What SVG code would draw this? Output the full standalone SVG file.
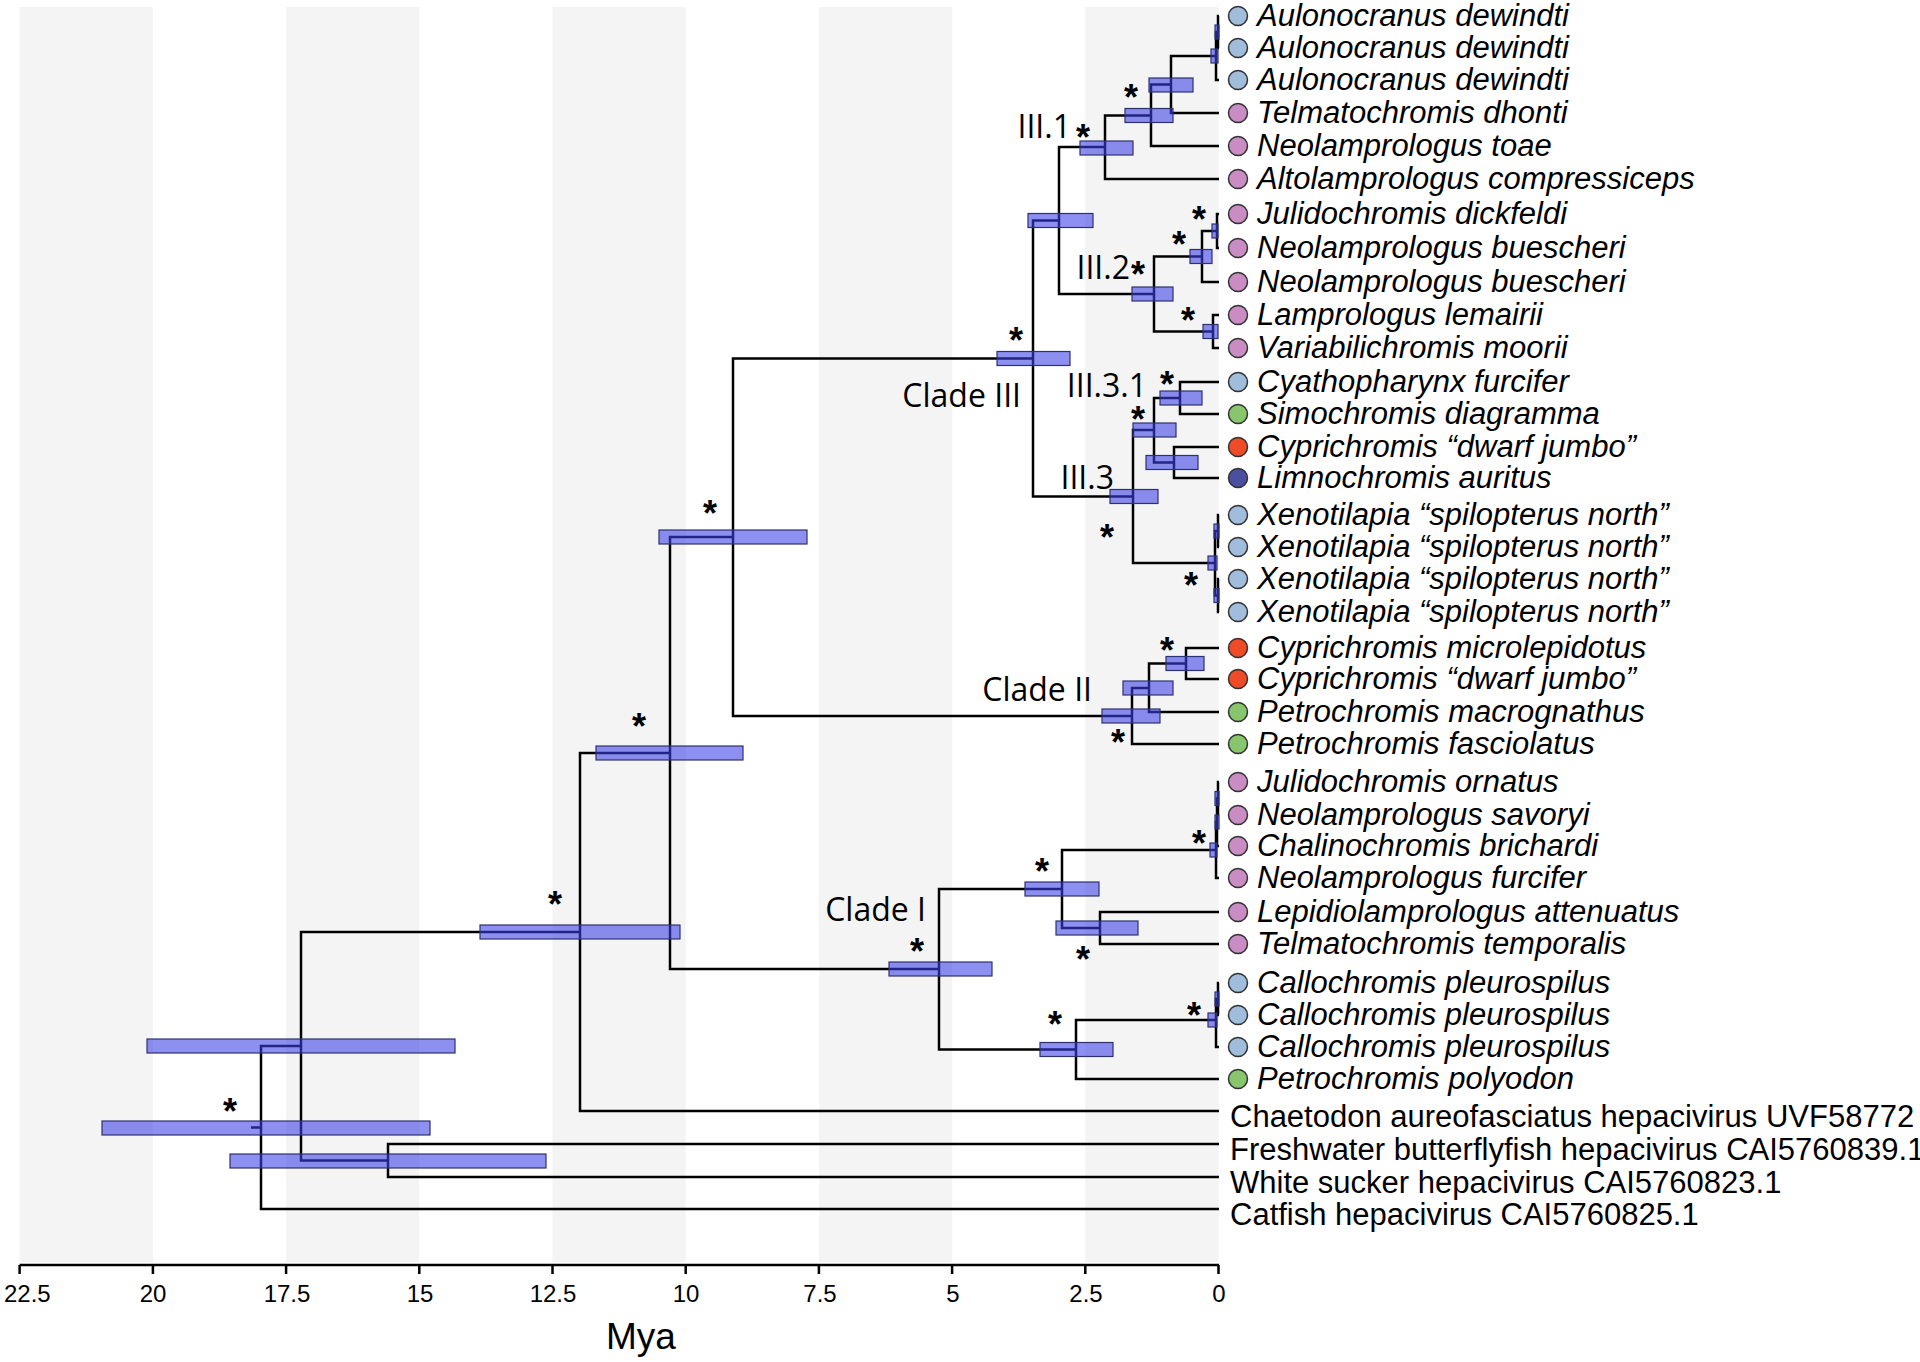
<svg xmlns="http://www.w3.org/2000/svg" width="1920" height="1362" viewBox="0 0 1920 1362">
<style>
.band{fill:#f4f4f4}
.br{fill:none;stroke:#000;stroke-width:2.5;stroke-linejoin:miter}
.bar{fill:#3a3fe6;fill-opacity:0.58;stroke:#2e3170;stroke-width:1.2}
.sp{font-family:"Liberation Sans",Arial,sans-serif;font-style:italic;font-size:31px;fill:#000}
.og{font-family:"Liberation Sans",Arial,sans-serif;font-size:31px;fill:#000}
.cl{font-family:"Open Sans","Liberation Sans",sans-serif;font-size:32px;fill:#000;text-anchor:end}
.st{font-family:"Liberation Sans",Arial,sans-serif;font-weight:bold;font-size:36px;fill:#000;text-anchor:middle}
.tk{font-family:"Liberation Sans",Arial,sans-serif;font-size:24px;fill:#000;text-anchor:middle}
.dot{stroke:#333;stroke-width:1.5}
.lb{fill:#a0bedc}.pk{fill:#c98dc4}.gr{fill:#88c66e}.rd{fill:#ee4b26}.db{fill:#4a4f9f}
</style>
<rect width="1920" height="1362" fill="#fff"/>
<g id="background">
<rect class="band" x="19.6" y="7" width="133.3" height="1255"/>
<rect class="band" x="286" y="7" width="133.3" height="1255"/>
<rect class="band" x="552.5" y="7" width="133.3" height="1255"/>
<rect class="band" x="819" y="7" width="133.3" height="1255"/>
<rect class="band" x="1085.3" y="7" width="133.3" height="1255"/>
</g>
<g id="connectors">
<path class="br" d="M1219 16 H1218 V48 H1219"/>
<path class="br" d="M1218 32 H1216 V80 H1219"/>
<path class="br" d="M1216 56 H1171 V113 H1219"/>
<path class="br" d="M1171 84.5 H1151 V146 H1219"/>
<path class="br" d="M1151 115.5 H1105 V179 H1219"/>
<path class="br" d="M1219 214 H1217 V248 H1219"/>
<path class="br" d="M1217 231 H1202 V282 H1219"/>
<path class="br" d="M1219 315 H1213 V348 H1219"/>
<path class="br" d="M1202 256.5 H1154 V331.5 H1213"/>
<path class="br" d="M1105 147 H1059 V294 H1154"/>
<path class="br" d="M1219 382 H1180 V414 H1219"/>
<path class="br" d="M1219 447 H1174 V478 H1219"/>
<path class="br" d="M1180 398 H1154 V462.5 H1174"/>
<path class="br" d="M1219 515 H1218 V547 H1219"/>
<path class="br" d="M1219 579 H1218 V612 H1219"/>
<path class="br" d="M1218 531 H1215 V595.5 H1218"/>
<path class="br" d="M1154 430 H1133 V563 H1215"/>
<path class="br" d="M1059 220.5 H1033 V496.5 H1133"/>
<path class="br" d="M1219 648 H1186 V679 H1219"/>
<path class="br" d="M1186 663.5 H1149 V712 H1219"/>
<path class="br" d="M1149 688 H1132 V744 H1219"/>
<path class="br" d="M1033 358.5 H733 V716 H1132"/>
<path class="br" d="M1219 782 H1218 V815 H1219"/>
<path class="br" d="M1218 798.5 H1217 V846 H1219"/>
<path class="br" d="M1217 822 H1216 V878 H1219"/>
<path class="br" d="M1219 912 H1100 V944 H1219"/>
<path class="br" d="M1216 850 H1062 V928 H1100"/>
<path class="br" d="M1219 983 H1218 V1015 H1219"/>
<path class="br" d="M1218 999 H1216 V1047 H1219"/>
<path class="br" d="M1216 1020 H1076 V1079 H1219"/>
<path class="br" d="M1062 889 H939 V1049.5 H1076"/>
<path class="br" d="M733 537 H670 V969 H939"/>
<path class="br" d="M670 753 H580 V1111 H1219"/>
<path class="br" d="M1219 1144 H388 V1177 H1219"/>
<path class="br" d="M580 932 H301 V1160.5 H388"/>
<path class="br" d="M301 1046 H261 V1209 H1219"/>
<path class="br" d="M251 1127.5 H261"/>
</g>
<g id="node-aulonocranus"><rect class="bar" x="1215" y="25" width="4" height="14"/><rect class="bar" x="1211" y="49" width="7" height="14"/></g>
<g id="node-iii1-a"><rect class="bar" x="1149" y="78" width="44" height="14"/><text class="st" x="1131" y="110">*</text></g>
<g id="node-iii1-b"><rect class="bar" x="1125" y="108.5" width="48" height="14"/></g>
<g id="node-iii1"><rect class="bar" x="1080" y="141" width="53" height="14"/><text class="cl" x="1071" y="138">III.1</text><text class="st" x="1083" y="150">*</text></g>
<g id="node-iii1-iii2"><rect class="bar" x="1028" y="213.5" width="65" height="14"/></g>
<g id="node-julidochromis"><rect class="bar" x="1212" y="224" width="6" height="14"/><text class="st" x="1199" y="232">*</text></g>
<g id="node-buescheri"><rect class="bar" x="1190" y="249.5" width="22" height="14"/><text class="st" x="1179" y="257">*</text></g>
<g id="node-lemairii"><rect class="bar" x="1203" y="324.5" width="15" height="14"/><text class="st" x="1188" y="333">*</text></g>
<g id="node-iii2"><rect class="bar" x="1132" y="287" width="41" height="14"/><text class="cl" x="1130" y="279">III.2</text><text class="st" x="1138" y="287">*</text></g>
<g id="node-clade-iii"><rect class="bar" x="997" y="351.5" width="73" height="14"/><text class="st" x="1016" y="353">*</text><text class="cl" x="1021" y="407">Clade III</text></g>
<g id="node-iii31"><rect class="bar" x="1160" y="391" width="42" height="14"/><text class="cl" x="1147" y="397">III.3.1</text><text class="st" x="1167" y="397">*</text></g>
<g id="node-iii3-a"><rect class="bar" x="1133" y="423" width="43" height="14"/><text class="st" x="1138" y="432">*</text></g>
<g id="node-limnochromis"><rect class="bar" x="1146" y="455.5" width="52" height="14"/></g>
<g id="node-iii3"><rect class="bar" x="1110" y="489.5" width="48" height="14"/><text class="cl" x="1114" y="489">III.3</text><text class="st" x="1107" y="550">*</text></g>
<g id="node-xenotilapia"><rect class="bar" x="1214" y="524" width="5" height="14"/><rect class="bar" x="1214" y="588.5" width="5" height="14"/><rect class="bar" x="1208" y="556" width="9" height="14"/><text class="st" x="1191" y="598">*</text></g>
<g id="node-cyprichromis"><rect class="bar" x="1166" y="656.5" width="38" height="14"/><text class="st" x="1167" y="663">*</text></g>
<g id="node-clade-ii-a"><rect class="bar" x="1123" y="681" width="50" height="14"/></g>
<g id="node-clade-ii"><rect class="bar" x="1102" y="709" width="58" height="14"/><text class="cl" x="1092" y="701">Clade II</text><text class="st" x="1118" y="755">*</text></g>
<g id="node-ii-iii"><rect class="bar" x="659" y="530" width="148" height="14"/><text class="st" x="710" y="526">*</text></g>
<g id="node-i-ii-iii"><rect class="bar" x="596" y="746" width="147" height="14"/><text class="st" x="639" y="739">*</text></g>
<g id="node-ornatus"><rect class="bar" x="1215" y="791.5" width="4" height="14"/><rect class="bar" x="1215" y="815" width="4" height="14"/><rect class="bar" x="1210" y="843" width="7" height="14"/><text class="st" x="1199" y="856">*</text></g>
<g id="node-lepidiolamprologus"><rect class="bar" x="1056" y="921" width="82" height="14"/><text class="st" x="1083" y="972">*</text></g>
<g id="node-clade-i-upper"><rect class="bar" x="1025" y="882" width="74" height="14"/><text class="st" x="1042" y="884">*</text></g>
<g id="node-callochromis"><rect class="bar" x="1215" y="992" width="4" height="14"/><rect class="bar" x="1208" y="1013" width="9" height="14"/><text class="st" x="1194" y="1028">*</text></g>
<g id="node-clade-i-lower"><rect class="bar" x="1040" y="1042.5" width="73" height="14"/><text class="st" x="1055" y="1037">*</text></g>
<g id="node-clade-i"><rect class="bar" x="889" y="962" width="103" height="14"/><text class="cl" x="926" y="921">Clade I</text><text class="st" x="917" y="964">*</text></g>
<g id="node-cichlid-virus"><rect class="bar" x="480" y="925" width="200" height="14"/><text class="st" x="555" y="917">*</text></g>
<g id="node-freshwater-white"><rect class="bar" x="230" y="1154" width="316" height="14"/></g>
<g id="node-inner"><rect class="bar" x="147" y="1039" width="308" height="14"/></g>
<g id="node-root"><rect class="bar" x="102" y="1121" width="328" height="14"/><text class="st" x="230" y="1124">*</text></g>
<g id="leaves">
<g id="leaf-1"><circle class="dot lb" cx="1238" cy="16" r="9.5"/><text class="sp" x="1257" y="26">Aulonocranus dewindti</text></g>
<g id="leaf-2"><circle class="dot lb" cx="1238" cy="48" r="9.5"/><text class="sp" x="1257" y="58">Aulonocranus dewindti</text></g>
<g id="leaf-3"><circle class="dot lb" cx="1238" cy="80" r="9.5"/><text class="sp" x="1257" y="90">Aulonocranus dewindti</text></g>
<g id="leaf-4"><circle class="dot pk" cx="1238" cy="113" r="9.5"/><text class="sp" x="1257" y="123">Telmatochromis dhonti</text></g>
<g id="leaf-5"><circle class="dot pk" cx="1238" cy="146" r="9.5"/><text class="sp" x="1257" y="156">Neolamprologus toae</text></g>
<g id="leaf-6"><circle class="dot pk" cx="1238" cy="179" r="9.5"/><text class="sp" x="1257" y="189">Altolamprologus compressiceps</text></g>
<g id="leaf-7"><circle class="dot pk" cx="1238" cy="214" r="9.5"/><text class="sp" x="1257" y="224">Julidochromis dickfeldi</text></g>
<g id="leaf-8"><circle class="dot pk" cx="1238" cy="248" r="9.5"/><text class="sp" x="1257" y="258">Neolamprologus buescheri</text></g>
<g id="leaf-9"><circle class="dot pk" cx="1238" cy="282" r="9.5"/><text class="sp" x="1257" y="292">Neolamprologus buescheri</text></g>
<g id="leaf-10"><circle class="dot pk" cx="1238" cy="315" r="9.5"/><text class="sp" x="1257" y="325">Lamprologus lemairii</text></g>
<g id="leaf-11"><circle class="dot pk" cx="1238" cy="348" r="9.5"/><text class="sp" x="1257" y="358">Variabilichromis moorii</text></g>
<g id="leaf-12"><circle class="dot lb" cx="1238" cy="382" r="9.5"/><text class="sp" x="1257" y="392">Cyathopharynx furcifer</text></g>
<g id="leaf-13"><circle class="dot gr" cx="1238" cy="414" r="9.5"/><text class="sp" x="1257" y="424">Simochromis diagramma</text></g>
<g id="leaf-14"><circle class="dot rd" cx="1238" cy="447" r="9.5"/><text class="sp" x="1257" y="457">Cyprichromis “dwarf jumbo”</text></g>
<g id="leaf-15"><circle class="dot db" cx="1238" cy="478" r="9.5"/><text class="sp" x="1257" y="488">Limnochromis auritus</text></g>
<g id="leaf-16"><circle class="dot lb" cx="1238" cy="515" r="9.5"/><text class="sp" x="1257" y="525">Xenotilapia “spilopterus north”</text></g>
<g id="leaf-17"><circle class="dot lb" cx="1238" cy="547" r="9.5"/><text class="sp" x="1257" y="557">Xenotilapia “spilopterus north”</text></g>
<g id="leaf-18"><circle class="dot lb" cx="1238" cy="579" r="9.5"/><text class="sp" x="1257" y="589">Xenotilapia “spilopterus north”</text></g>
<g id="leaf-19"><circle class="dot lb" cx="1238" cy="612" r="9.5"/><text class="sp" x="1257" y="622">Xenotilapia “spilopterus north”</text></g>
<g id="leaf-20"><circle class="dot rd" cx="1238" cy="648" r="9.5"/><text class="sp" x="1257" y="658">Cyprichromis microlepidotus</text></g>
<g id="leaf-21"><circle class="dot rd" cx="1238" cy="679" r="9.5"/><text class="sp" x="1257" y="689">Cyprichromis “dwarf jumbo”</text></g>
<g id="leaf-22"><circle class="dot gr" cx="1238" cy="712" r="9.5"/><text class="sp" x="1257" y="722">Petrochromis macrognathus</text></g>
<g id="leaf-23"><circle class="dot gr" cx="1238" cy="744" r="9.5"/><text class="sp" x="1257" y="754">Petrochromis fasciolatus</text></g>
<g id="leaf-24"><circle class="dot pk" cx="1238" cy="782" r="9.5"/><text class="sp" x="1257" y="792">Julidochromis ornatus</text></g>
<g id="leaf-25"><circle class="dot pk" cx="1238" cy="815" r="9.5"/><text class="sp" x="1257" y="825">Neolamprologus savoryi</text></g>
<g id="leaf-26"><circle class="dot pk" cx="1238" cy="846" r="9.5"/><text class="sp" x="1257" y="856">Chalinochromis brichardi</text></g>
<g id="leaf-27"><circle class="dot pk" cx="1238" cy="878" r="9.5"/><text class="sp" x="1257" y="888">Neolamprologus furcifer</text></g>
<g id="leaf-28"><circle class="dot pk" cx="1238" cy="912" r="9.5"/><text class="sp" x="1257" y="922">Lepidiolamprologus attenuatus</text></g>
<g id="leaf-29"><circle class="dot pk" cx="1238" cy="944" r="9.5"/><text class="sp" x="1257" y="954">Telmatochromis temporalis</text></g>
<g id="leaf-30"><circle class="dot lb" cx="1238" cy="983" r="9.5"/><text class="sp" x="1257" y="993">Callochromis pleurospilus</text></g>
<g id="leaf-31"><circle class="dot lb" cx="1238" cy="1015" r="9.5"/><text class="sp" x="1257" y="1025">Callochromis pleurospilus</text></g>
<g id="leaf-32"><circle class="dot lb" cx="1238" cy="1047" r="9.5"/><text class="sp" x="1257" y="1057">Callochromis pleurospilus</text></g>
<g id="leaf-33"><circle class="dot gr" cx="1238" cy="1079" r="9.5"/><text class="sp" x="1257" y="1089">Petrochromis polyodon</text></g>
<g id="leaf-34"><text class="og" x="1230" y="1127">Chaetodon aureofasciatus hepacivirus UVF58772</text></g>
<g id="leaf-35"><text class="og" x="1230" y="1160">Freshwater butterflyfish hepacivirus CAI5760839.1</text></g>
<g id="leaf-36"><text class="og" x="1230" y="1193">White sucker hepacivirus CAI5760823.1</text></g>
<g id="leaf-37"><text class="og" x="1230" y="1225">Catfish hepacivirus CAI5760825.1</text></g>
</g>
<g id="axis">
<path fill="none" stroke="#000" stroke-width="2.5" d="M19.6 1265 H1219 M19.6 1265 V1274 M152.9 1265 V1274 M286.1 1265 V1274 M419.3 1265 V1274 M552.5 1265 V1274 M685.7 1265 V1274 M818.9 1265 V1274 M952.1 1265 V1274 M1085.3 1265 V1274 M1218.5 1265 V1274"/>
<text class="tk" x="4" y="1302" style="text-anchor:start">22.5</text>
<text class="tk" x="153" y="1302">20</text>
<text class="tk" x="287" y="1302">17.5</text>
<text class="tk" x="420" y="1302">15</text>
<text class="tk" x="553" y="1302">12.5</text>
<text class="tk" x="686" y="1302">10</text>
<text class="tk" x="820" y="1302">7.5</text>
<text class="tk" x="953" y="1302">5</text>
<text class="tk" x="1086" y="1302">2.5</text>
<text class="tk" x="1219" y="1302">0</text>
<text x="641" y="1349" text-anchor="middle" font-family="Liberation Sans, Arial, sans-serif" font-size="37">Mya</text>
</g>
</svg>
